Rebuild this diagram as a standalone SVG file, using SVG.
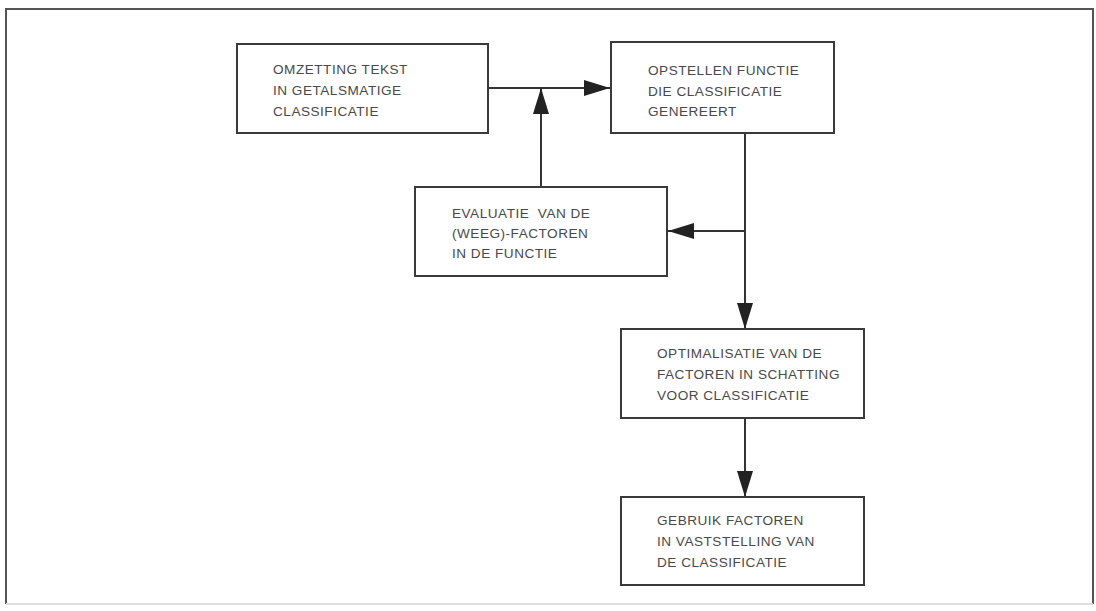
<svg xmlns="http://www.w3.org/2000/svg" width="1096" height="611" viewBox="0 0 1096 611">
<style>
.box{fill:#fff;stroke:#3a3a3a;stroke-width:2}
.t{font-family:"Liberation Sans",Arial,sans-serif;font-size:13.6px;letter-spacing:0.5px;fill:#4a4a4a;white-space:pre}
.c{fill:none;stroke:#333;stroke-width:2}
</style>
<defs>
<marker id="ah" markerWidth="26" markerHeight="16" refX="26" refY="8" orient="auto" markerUnits="userSpaceOnUse">
<path d="M0,0 L26,8 L0,16 Z" fill="#222"/>
</marker>
</defs>
<rect width="1096" height="611" fill="#fff"/>
<g id="frame">
<path d="M6,604 L6,9 L1093,9 L1093,604" fill="none" stroke="#555" stroke-width="2"/>
<path d="M6,604 L1093,604" fill="none" stroke="#ddd" stroke-width="2"/>
</g>
<g id="connectors">
<path class="c" d="M488,88 L610,88" marker-end="url(#ah)"/>
<path class="c" d="M541,186 L541,88" marker-end="url(#ah)"/>
<path class="c" d="M745,133 L745,329" marker-end="url(#ah)"/>
<path class="c" d="M745,231 L668,231" marker-end="url(#ah)"/>
<path class="c" d="M745,418 L745,497" marker-end="url(#ah)"/>
</g>
<g id="n1">
<rect class="box" x="237" y="44" width="251" height="89"/>
<text class="t" x="273" y="74">OMZETTING TEKST</text>
<text class="t" x="273" y="95">IN GETALSMATIGE</text>
<text class="t" x="273" y="116">CLASSIFICATIE</text>
</g>
<g id="n2">
<rect class="box" x="611" y="42" width="223" height="91"/>
<text class="t" x="648" y="75">OPSTELLEN FUNCTIE</text>
<text class="t" x="648" y="96">DIE CLASSIFICATIE</text>
<text class="t" x="648" y="116">GENEREERT</text>
</g>
<g id="n3">
<rect class="box" x="415" y="187" width="252" height="89"/>
<text class="t" x="452" y="218">EVALUATIE  VAN DE</text>
<text class="t" x="452" y="238">(WEEG)-FACTOREN</text>
<text class="t" x="452" y="258">IN DE FUNCTIE</text>
</g>
<g id="n4">
<rect class="box" x="621" y="329" width="243" height="89"/>
<text class="t" x="657" y="358">OPTIMALISATIE VAN DE</text>
<text class="t" x="657" y="379">FACTOREN IN SCHATTING</text>
<text class="t" x="657" y="400">VOOR CLASSIFICATIE</text>
</g>
<g id="n5">
<rect class="box" x="621" y="497" width="243" height="88"/>
<text class="t" x="657" y="525">GEBRUIK FACTOREN</text>
<text class="t" x="657" y="546">IN VASTSTELLING VAN</text>
<text class="t" x="657" y="567">DE CLASSIFICATIE</text>
</g>
</svg>
